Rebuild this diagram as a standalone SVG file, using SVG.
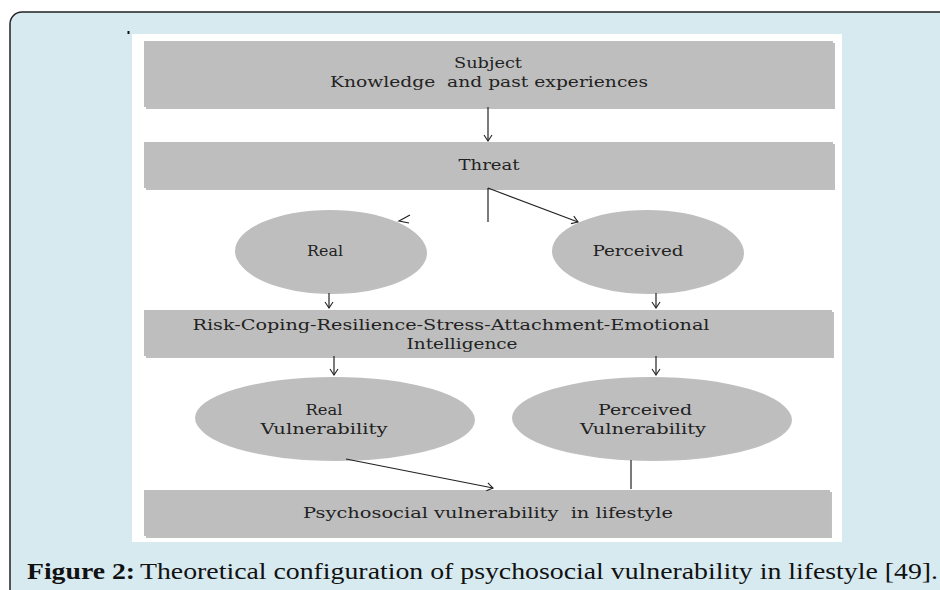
<svg xmlns="http://www.w3.org/2000/svg" width="940" height="590" viewBox="0 0 940 590">
<defs>
<marker id="ah" markerUnits="userSpaceOnUse" markerWidth="14" markerHeight="14" viewBox="-8 -7 10 14" refX="0" refY="0" orient="auto">
<path d="M-6,-4 L0,0 L-6,4" fill="none" stroke="#222" stroke-width="1.1"/>
</marker>
</defs>
<style>
.box{fill:#bebebe;}
.sh{fill:#8a8a8a;opacity:0.55;}
.t{font-family:"DejaVu Serif","Liberation Serif",serif;font-size:15px;fill:#222;}
.c{stroke:#222;stroke-width:1.2;fill:none;}
.cap{font-family:"Liberation Serif","DejaVu Serif",serif;font-size:24px;fill:#111;}
</style>
<rect x="0" y="0" width="940" height="590" fill="#ffffff"/>
<rect x="10" y="12" width="960" height="620" rx="12" fill="#d7eaf0" stroke="#222" stroke-width="1.5"/>
<rect x="132" y="34" width="710" height="508" fill="#ffffff"/>
<rect x="127.5" y="31" width="2" height="3" fill="#111"/>

<g id="subject">
<rect class="sh" x="146" y="43" width="689" height="66"/>
<rect class="box" x="144" y="41" width="689" height="66"/>
<text class="t" x="488" y="68" text-anchor="middle" textLength="68" lengthAdjust="spacingAndGlyphs">Subject</text>
<text class="t" x="489" y="87" text-anchor="middle" textLength="318" lengthAdjust="spacingAndGlyphs" xml:space="preserve">Knowledge  and past experiences</text>
</g>
<g id="threat">
<rect class="sh" x="146" y="144" width="689" height="46"/>
<rect class="box" x="144" y="142" width="689" height="46"/>
<text class="t" x="489" y="170" text-anchor="middle" textLength="61" lengthAdjust="spacingAndGlyphs">Threat</text>
</g>
<g id="real">
<ellipse class="sh" cx="332" cy="253" rx="95" ry="41"/>
<ellipse class="box" cx="330" cy="251" rx="95" ry="41"/>
<text class="t" x="325" y="256" text-anchor="middle" textLength="36" lengthAdjust="spacingAndGlyphs">Real</text>
</g>
<g id="perceived">
<ellipse class="sh" cx="649" cy="253" rx="95" ry="41"/>
<ellipse class="box" cx="647" cy="251" rx="95" ry="41"/>
<text class="t" x="638" y="256" text-anchor="middle" textLength="91" lengthAdjust="spacingAndGlyphs">Perceived</text>
</g>
<g id="risk">
<rect class="sh" x="146" y="312" width="688" height="46"/>
<rect class="box" x="144" y="310" width="688" height="46"/>
<text class="t" x="451" y="330" text-anchor="middle" textLength="517" lengthAdjust="spacingAndGlyphs">Risk-Coping-Resilience-Stress-Attachment-Emotional</text>
<text class="t" x="462" y="349" text-anchor="middle" textLength="111" lengthAdjust="spacingAndGlyphs">Intelligence</text>
</g>
<g id="realvuln">
<ellipse class="sh" cx="336" cy="420" rx="139" ry="41"/>
<ellipse class="box" cx="334" cy="418" rx="139" ry="41"/>
<text class="t" x="324" y="415" text-anchor="middle" textLength="37" lengthAdjust="spacingAndGlyphs">Real</text>
<text class="t" x="324" y="434" text-anchor="middle" textLength="127" lengthAdjust="spacingAndGlyphs">Vulnerability</text>
</g>
<g id="percvuln">
<ellipse class="sh" cx="653" cy="420" rx="139" ry="41"/>
<ellipse class="box" cx="651" cy="418" rx="139" ry="41"/>
<text class="t" x="645" y="415" text-anchor="middle" textLength="94" lengthAdjust="spacingAndGlyphs">Perceived</text>
<text class="t" x="643" y="434" text-anchor="middle" textLength="126" lengthAdjust="spacingAndGlyphs">Vulnerability</text>
</g>
<g id="psychosocial">
<rect class="sh" x="146" y="492" width="686" height="46"/>
<rect class="box" x="144" y="490" width="686" height="46"/>
<text class="t" x="488" y="518" text-anchor="middle" textLength="370" lengthAdjust="spacingAndGlyphs" xml:space="preserve">Psychosocial vulnerability  in lifestyle</text>
</g>

<g id="connectors">
<line class="c" x1="488" y1="107" x2="488" y2="141" marker-end="url(#ah)"/>
<line class="c" x1="488" y1="188" x2="488" y2="222"/>
<line class="c" x1="488" y1="188" x2="578" y2="222" marker-end="url(#ah)"/>
<polyline class="c" points="410,215 399,221 409,223"/>
<line class="c" x1="329" y1="293" x2="329" y2="308" marker-end="url(#ah)"/>
<line class="c" x1="656" y1="293" x2="656" y2="308" marker-end="url(#ah)"/>
<line class="c" x1="334" y1="356" x2="334" y2="375" marker-end="url(#ah)"/>
<line class="c" x1="656" y1="356" x2="656" y2="375" marker-end="url(#ah)"/>
<line class="c" x1="346" y1="459" x2="493" y2="488" marker-end="url(#ah)"/>
<line class="c" x1="631" y1="460" x2="631" y2="489"/>
</g>

<text class="cap" x="27" y="579"><tspan font-weight="bold" textLength="108" lengthAdjust="spacingAndGlyphs">Figure 2:</tspan><tspan x="140" textLength="798" lengthAdjust="spacingAndGlyphs">Theoretical configuration of psychosocial vulnerability in lifestyle [49].</tspan></text>
</svg>
